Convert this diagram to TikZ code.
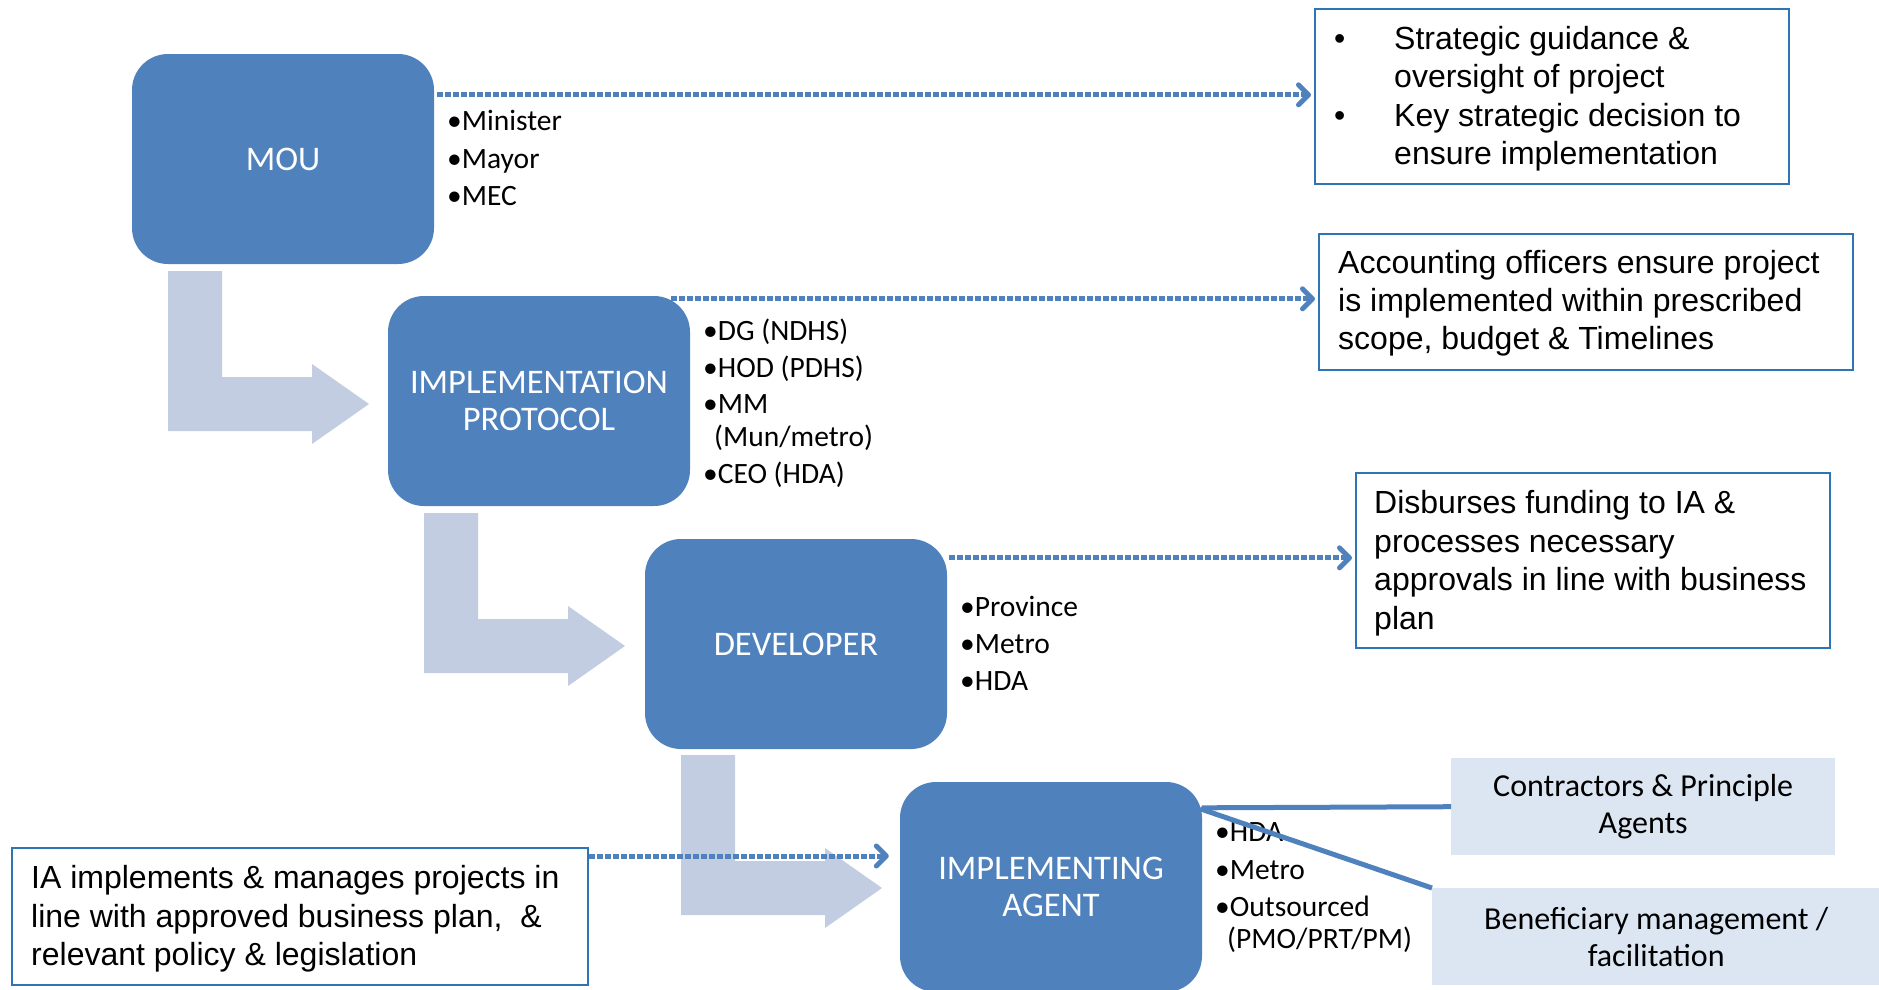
\documentclass[tikz,border=0pt]{standalone}
\usepackage{fontspec}
\setmainfont{Carlito}
\newfontfamily\arialf{Liberation Sans}
\usetikzlibrary{arrows.meta,calc}
\definecolor{mainblue}{RGB}{79,129,189}
\definecolor{lblue}{RGB}{195,205,225}
\definecolor{pblue}{RGB}{220,230,242}
\definecolor{bdblue}{RGB}{46,117,182}
\tikzset{
  mainbox/.style={fill=mainblue, draw=none, rounded corners=36pt, minimum width=302pt, minimum height=210pt, text=white, align=center, font=\fontsize{34.5}{37}\selectfont, inner sep=0pt},
  bul/.style={anchor=base west, inner sep=0pt, font=\fontsize{29.5}{37}\selectfont},
  infobox/.style={draw=bdblue, line width=2pt, fill=white, anchor=north west, inner sep=0pt},
  infotext/.style={anchor=base west, inner sep=0pt, font=\arialf\fontsize{32}{38}\selectfont},
  dotarrow/.style={draw=mainblue, line width=5pt, dash pattern=on 5.5pt off 2.5pt, -{Straight Barb[round,length=10pt,width=20pt]}},
  solidln/.style={draw=mainblue, line width=5pt},
  lshape/.style={fill=lblue, draw=none},
  pale/.style={fill=pblue, draw=none, align=center, anchor=north west, inner sep=0pt, font=\fontsize{32}{37}\selectfont},
}
\begin{document}
\begin{tikzpicture}[x=1pt,y=-1pt]
\useasboundingbox (0,0) rectangle (1879,989);
\clip (0,0) rectangle (1879,989);
% L-shaped flow arrows
\foreach \dx/\dy in {0/0,256/242,513/484}{
  \begin{scope}[shift={(\dx,\dy)}]
    \fill[lshape] (168,271) -- (222,271) -- (222,377) -- (312,377) -- (312,364) -- (369,404) -- (312,444) -- (312,431) -- (168,431) -- cycle;
  \end{scope}
}
% main boxes
\node[mainbox] (mou) at (283,159) {MOU};
\node[mainbox] (ip) at (539,401) {IMPLEMENTATION\\PROTOCOL};
\node[mainbox] (dev) at (796,644) {DEVELOPER};
\node[mainbox] (ia) at (1051,887) {IMPLEMENTING\\AGENT};
% bullet lists
\node[bul] (m1) at (447,130) {•Minister};
\node[bul] (m2) at (447,168) {•Mayor};
\node[bul] (m3) at (447,205) {•MEC};
\node[bul] (p1) at (703,340) {•DG (NDHS)};
\node[bul] (p2) at (703,377) {•HOD (PDHS)};
\node[bul] (p3) at (703,413) {•MM};
\node[bul] (p4) at (714,446) {(Mun/metro)};
\node[bul] (p5) at (703,483) {•CEO (HDA)};
\node[bul] (d1) at (960,616) {•Province};
\node[bul] (d2) at (960,653) {•Metro};
\node[bul] (d3) at (960,690) {•HDA};
\node[bul] (a1) at (1215,841) {•HDA};
\node[bul] (a2) at (1215,879) {•Metro};
\node[bul] (a3) at (1215,916) {•Outsourced};
\node[bul] (a4) at (1227,948) {(PMO/PRT/PM)};
% info boxes
\node[infobox, minimum width=474pt, minimum height=175pt] (g1) at (1314,8) {};
\node[infotext] (g1b1) at (1334,49) {•};
\node[infotext] (g1t1) at (1394,49) {Strategic guidance \&};
\node[infotext] (g1t2) at (1394,87) {oversight of project};
\node[infotext] (g1b2) at (1334,126) {•};
\node[infotext] (g1t3) at (1394,126) {Key strategic decision to};
\node[infotext] (g1t4) at (1394,164) {ensure implementation};
\node[infobox, minimum width=534pt, minimum height=136pt] (g2) at (1318,233) {};
\node[infotext] (g2t1) at (1338,273) {Accounting officers ensure project};
\node[infotext] (g2t2) at (1338,311) {is implemented within prescribed};
\node[infotext] (g2t3) at (1338,349) {scope, budget \& Timelines};
\node[infobox, minimum width=474pt, minimum height=175pt] (g3) at (1355,472) {};
\node[infotext] (g3t1) at (1374,513) {Disburses funding to IA \&};
\node[infotext] (g3t2) at (1374,552) {processes necessary};
\node[infotext] (g3t3) at (1374,590) {approvals in line with business};
\node[infotext] (g3t4) at (1374,629) {plan};
\node[infobox, minimum width=576pt, minimum height=137pt] (bl) at (11,847) {};
\node[infotext] (blt1) at (31,888) {IA implements \& manages projects in};
\node[infotext] (blt2) at (31,927) {line with approved business plan,~~\&};
\node[infotext] (blt3) at (31,965) {relevant policy \& legislation};
% pale boxes
\node[pale, minimum width=384pt, minimum height=97pt] (ct) at (1451,758) {Contractors \& Principle\\Agents};
\node[pale, minimum width=448pt, minimum height=97pt] (bn) at (1432,888) {Beneficiary management /\\facilitation};
% dotted connectors
\coordinate (s1) at ($(mou.north east)+(3,41)$);
\draw[dotarrow] (s1) -- ($(s1 -| g1.west)+(-3,0)$);
\coordinate (s2) at ($(ip.north east)+(-19,3)$);
\draw[dotarrow] (s2) -- ($(s2 -| g2.west)+(-3,0)$);
\coordinate (s3) at ($(dev.north east)+(2,19)$);
\draw[dotarrow] (s3) -- ($(s3 -| g3.west)+(-3,0)$);
\coordinate (s4) at ($(bl.north east)+(0,9)$);
\draw[dotarrow] (s4) -- ($(s4 -| ia.west)+(-11,0)$);
% solid connectors
\draw[solidln] ($(ia.north east)+(0,26)$) -- (ct.west);
\draw[solidln] ($(ia.north east)+(-2,27)$) -- (bn.north west);
\end{tikzpicture}
\end{document}
